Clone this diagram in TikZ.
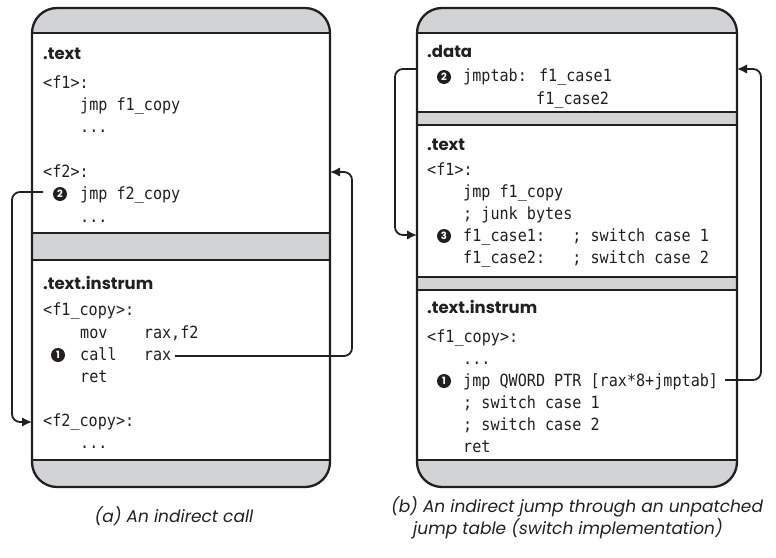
\documentclass[tikz,border=0pt]{standalone}
\usepackage{fontspec}
\setmainfont{DejaVu Sans}
\newfontfamily\codefont[FakeStretch=0.9]{DejaVu Sans Mono}
\newfontfamily\headfont{Poppins}
\newfontfamily\capfont{Poppins}
\usetikzlibrary{arrows.meta}
\definecolor{secgray}{RGB}{209,211,212}
\definecolor{ink}{RGB}{35,31,32}
\begin{document}
\begin{tikzpicture}[x=1pt,y=-1pt,
  border/.style={draw=ink,line width=2.3pt},
  code/.style={anchor=base west,inner sep=0pt,font=\codefont\fontsize{16.8}{18}\selectfont,text=ink},
  head/.style={anchor=base west,inner sep=0pt,font=\headfont\bfseries\fontsize{16.5}{20}\selectfont,text=ink},
  numc/.style={circle,fill=ink,text=white,inner sep=0pt,minimum size=14pt,font=\headfont\bfseries\fontsize{10}{10}\selectfont},
  arr/.style={draw=ink,line width=1.8pt,rounded corners=8pt,-{Latex[length=10pt,width=9.5pt]}},
  captext/.style={anchor=base,inner sep=0pt,font=\capfont\itshape\fontsize{17}{20}\selectfont,text=ink}]
\useasboundingbox (0,0) rectangle (776,557);

% ---------- left box ----------
\fill[secgray,rounded corners=25pt] (32,8) rectangle (330,487);
\fill[white] (32,33) rectangle (330,233);
\fill[white] (32,260) rectangle (330,460);
\draw[border] (32,33) -- (330,33);
\draw[border] (32,233) -- (330,233);
\draw[border] (32,260) -- (330,260);
\draw[border] (32,460) -- (330,460);
\draw[border,rounded corners=25pt] (32,8) rectangle (330,487);

% ---------- right box ----------
\fill[secgray,rounded corners=25pt] (417,8) rectangle (737,487);
\fill[white] (417,33) rectangle (737,112);
\fill[white] (417,125) rectangle (737,277);
\fill[white] (417,290) rectangle (737,460);
\draw[border] (417,33) -- (737,33);
\draw[border] (417,112) -- (737,112);
\draw[border] (417,125) -- (737,125);
\draw[border] (417,277) -- (737,277);
\draw[border] (417,290) -- (737,290);
\draw[border] (417,460) -- (737,460);
\draw[border,rounded corners=25pt] (417,8) rectangle (737,487);

% ---------- left texts ----------
\node[head] (lth) at (43,59) {.text};
\node[code] (lf1) at (43,88) {<f1>:};
\node[code] (ljmp1) at (80,110) {jmp f1\_copy};
\node[code] (ldots1) at (80,132) {...};
\node[code] (lf2) at (43,177) {<f2>:};
\node[code] (ljmp2) at (80,199.5) {jmp f2\_copy};
\node[numc] (ln2) at (60,194) {2};
\node[code] (ldots2) at (80,222) {...};

\node[head] (lih) at (43,289) {.text.instrum};
\node[code] (lf1c) at (43,315) {<f1\_copy>:};
\node[code] (lmov) at (80,338) {mov\ \ \ \ rax,f2};
\node[code] (lcall) at (80,360) {call\ \ \ rax};
\node[numc] (ln1) at (58,355) {1};
\node[code] (lret) at (80,382) {ret};
\node[code] (lf2c) at (43,426) {<f2\_copy>:};
\node[code] (ldots3) at (80,448) {...};

% ---------- right texts ----------
\node[head] (rdh) at (427,57) {.data};
\node[numc] (rn2) at (444,77) {2};
\node[code] (rtab) at (463,81.5) {jmptab: f1\_case1};
\node[code] (rtab2) at (536,104) {f1\_case2};

\node[head] (rth) at (427,150.5) {.text};
\node[code] (rf1) at (427,175) {<f1>:};
\node[code] (rjmp) at (463,197) {jmp f1\_copy};
\node[code] (rjunk) at (463,219) {; junk bytes};
\node[numc] (rn3) at (444,236) {3};
\node[code] (rc1) at (463,241) {f1\_case1:\ \ \ ; switch case 1};
\node[code] (rc2) at (463,263) {f1\_case2:\ \ \ ; switch case 2};

\node[head] (rih) at (427,313) {.text.instrum};
\node[code] (rf1c) at (427,342) {<f1\_copy>:};
\node[code] (rdots) at (463,364) {...};
\node[numc] (rn1) at (444,381) {1};
\node[code] (rjq) at (463,386) {jmp QWORD PTR [rax*8+jmptab]};
\node[code] (rs1) at (463,408) {; switch case 1};
\node[code] (rs2) at (463,430) {; switch case 2};
\node[code] (rret) at (463,452) {ret};

% ---------- arrows ----------
\coordinate (aS) at (43,192);
\coordinate (aM) at (12,307);
\coordinate (aE) at (32,422);
\draw[arr] (aS) -| (aM) |- (aE);

\coordinate (bS) at (175,356);
\coordinate (bM) at (352,264);
\coordinate (bE) at (330,172);
\draw[arr] (bS) -| (bM) |- (bE);

\coordinate (cS) at (417,69);
\coordinate (cM) at (395,152);
\coordinate (cE) at (417,235);
\draw[arr] (cS) -| (cM) |- (cE);

\coordinate (dS) at (725,380);
\coordinate (dM) at (761,224);
\coordinate (dE) at (737,69);
\draw[arr] (dS) -| (dM) |- (dE);

% ---------- captions ----------
\node[captext] (capa) at (174,522) {(a) An indirect call};
\node[captext] (capb1) at (577,512) {(b) An indirect jump through an unpatched};
\node[captext] (capb2) at (568,534.5) {jump table (switch implementation)};
\end{tikzpicture}
\end{document}
